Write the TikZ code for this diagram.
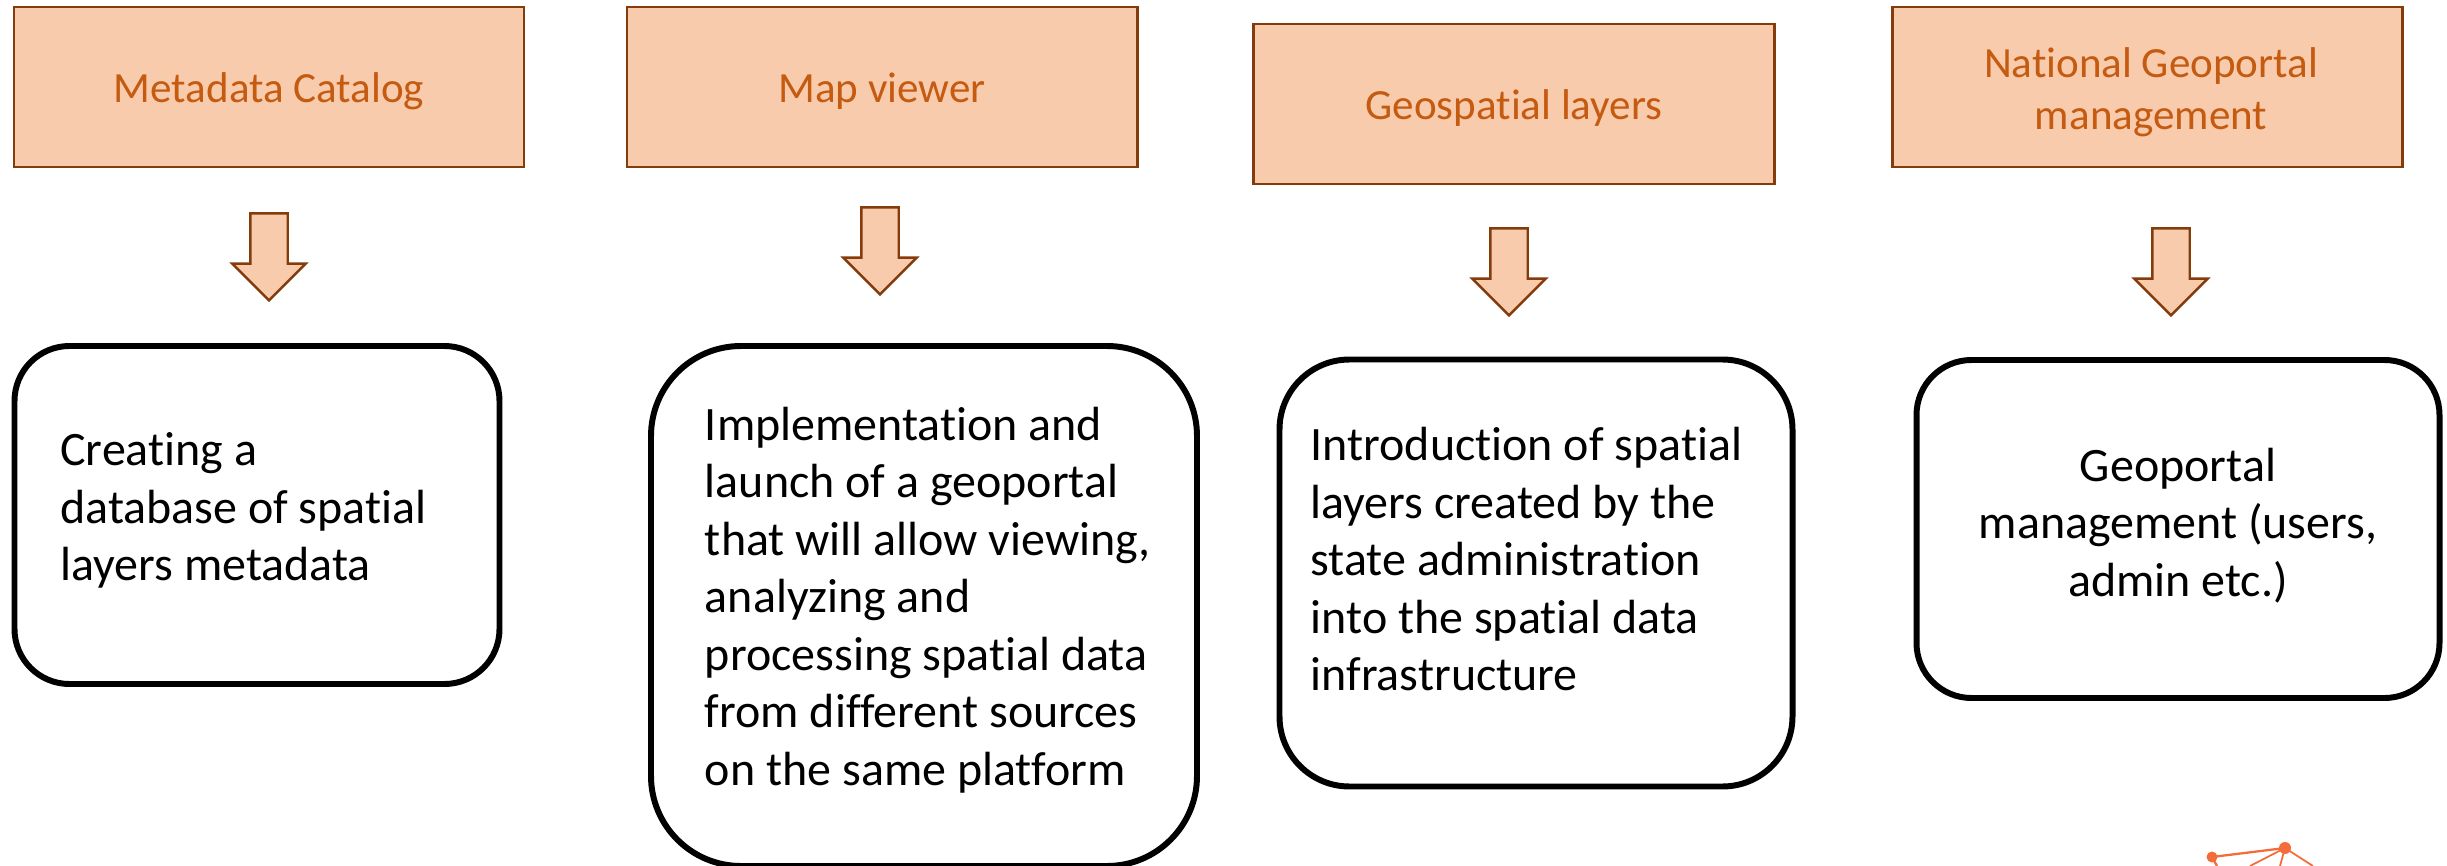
\documentclass[tikz,border=0pt]{standalone}
\usepackage{fontspec}
\setmainfont[Ligatures=NoCommon]{Carlito}
\usepackage{tikz}
\usetikzlibrary{positioning,shapes.arrows}
\definecolor{headfill}{HTML}{F7CBAC}
\definecolor{headline}{HTML}{843C0C}
\definecolor{headtext}{HTML}{C55A11}
\definecolor{logoline}{HTML}{F26D3A}
\newcommand{\lift}[1]{\rule[-#1]{0pt}{#1}}
\newcommand{\ind}{\hspace*{0.16cm}}

\begin{document}
\begin{tikzpicture}[node distance=2cm,on grid]
      \tikzset{headbox/.style={draw=headline,fill=headfill,rectangle,line width=1.7pt,minimum width=10.2cm,minimum height=3.2cm,text=headtext,align=center,font=\fontsize{24.5}{29.5}\selectfont,execute at begin node={\rule{0pt}{0.76cm}}}}
      \tikzset{downarrow/.style={draw=headline,fill=headfill,single arrow,shape border rotate=270,line width=1.4pt,minimum height=1.74cm,single arrow head extend=0.36cm,inner sep=0.35cm}}
      \tikzset{bodybox/.style={draw=black,rectangle,rounded corners=#1,line width=3.4pt,align=left,font=\fontsize{27.3}{32.7}\selectfont}}
      \useasboundingbox (0,0) rectangle (48.94,-17.32);
      
      \node[headbox] (head1) at (5.38,-1.74) {Metadata Catalog};
      \node[headbox] (head2) [right = 12.26cm of head1] {Map viewer};
      \node[headbox,minimum width=10.42cm] (head3) at (30.28,-2.08) {Geospatial layers};
      \node[headbox] (head4) at (42.94,-1.74) {\ind\rule{0pt}{0.8cm}National Geoportal\\\ind management};
      
      \node[downarrow] (arrow1) [below = 3.21cm of head1] {};
      \node[downarrow] (arrow2) [below = 3.09cm of head2,xshift=-0.04cm] {};
      \node[downarrow] (arrow3) [below = 3.17cm of head3,xshift=-0.1cm] {};
      \node[downarrow] (arrow4) [below = 3.51cm of head4,xshift=0.48cm] {};
      
      \node[bodybox=1.1cm,minimum width=9.7cm,minimum height=6.76cm] (body1) [below = 5.35cm of arrow1,xshift=-0.24cm] {Creating a\\database of spatial\\layers metadata\hspace*{1.66cm}\lift{0.33cm}};
      \node[bodybox=1.8cm,minimum width=10.92cm,minimum height=10.4cm] (body2) [below = 7.29cm of arrow2,xshift=0.88cm] {\ind Implementation and\\\ind launch of a geoportal\\\ind that will allow viewing,\\\ind analyzing and\\\ind processing spatial data\\\ind from different sources\\\ind on the same platform\lift{0.4cm}};
      \node[bodybox=1.4cm,minimum width=10.26cm,minimum height=8.54cm] (body3) [below = 6.21cm of arrow3,xshift=0.54cm] {Introduction of spatial\hspace*{0.38cm}\\layers created by the\\state administration\\into the spatial data\\infrastructure\lift{0.55cm}};
      \node[bodybox=1.1cm,align=center,minimum width=10.46cm,minimum height=6.76cm] (body4) [below = 5.33cm of arrow4,xshift=0.14cm] {Geoportal\\management (users,\\admin etc.)\lift{0.28cm}};
      
      % logo cut off by the page edge
      \coordinate (logoa) at (44.24,-17.14);
      \coordinate (logob) at (45.7,-16.96);
      \coordinate (logoc) at (44.34,-17.32);
      \coordinate (logod) at (45,-17.32);
      \coordinate (logoe) at (45.6,-17.32);
      \coordinate (logof) at (46.26,-17.32);
      \fill[logoline] (logoa) circle (0.11cm) (logob) circle (0.12cm);
      \draw[logoline,line width=1.3pt] (logoa) -- (logob) (logoa) -- (logoc);
      \draw[logoline,line width=1pt] (logob) -- (logod) (logob) -- (logoe) (logob) -- (logof);
    \end{tikzpicture}
\end{document}
